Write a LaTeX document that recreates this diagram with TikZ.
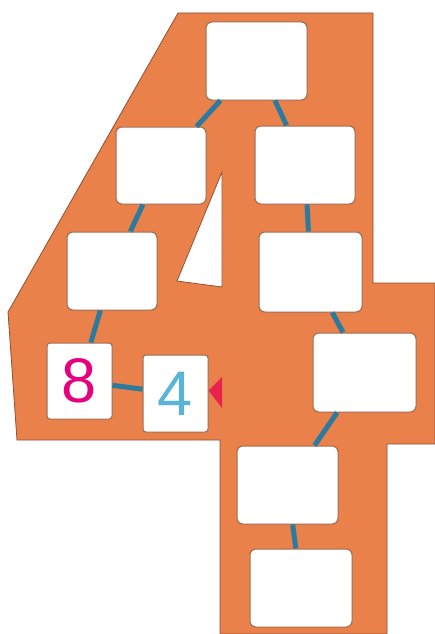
\documentclass[tikz,border=0pt]{standalone}
\usepackage{fontspec}
\setsansfont{Liberation Sans}
\usepackage{xcolor}
\usetikzlibrary{shapes,arrows.meta,positioning,calc}

\definecolor{plate}{RGB}{234,128,74}
\definecolor{rim}{RGB}{140,82,52}
\definecolor{link}{RGB}{44,122,158}
\definecolor{pink}{RGB}{230,0,126}
\definecolor{sky}{RGB}{90,180,214}
\definecolor{flagred}{RGB}{232,36,78}

\begin{document}
\begin{tikzpicture}[
    x=1pt, y=-1pt,
    box/.style={rectangle, draw=rim!85, fill=white, rounded corners=6pt, line width=1pt, inner sep=0pt, minimum width=100pt, minimum height=78pt},
    numbox/.style={box, rounded corners=3pt, minimum width=65pt, minimum height=77pt, font=\sffamily\fontsize{63}{63}\selectfont},
    wire/.style={line width=5pt, draw=link}
]
\useasboundingbox (0,0) rectangle (435,634);

% the big four
\filldraw[fill=plate, draw=rim, line width=0.8pt]
    (178,13) -- (373,13) -- (373,283) -- (435,283) -- (435,444) -- (387,444)
    -- (387,634) -- (220,634) -- (220,440) -- (17,440) -- (8,312) -- cycle;
\filldraw[fill=white, draw=rim, line width=0.8pt]
    (222,172) -- (222,287) -- (177,281) -- cycle;

\node[box, minimum width=101pt] (top) at (256.5,61) {};
\node[box, minimum width=90pt, minimum height=77pt] (upleft) at (161,165.5) {};
\node[box] (upright) at (305,165) {};
\node[box, minimum width=90pt] (midleft) at (112,271) {};
\node[box, minimum width=103pt, minimum height=80pt] (midright) at (310.5,272) {};
\node[numbox, minimum height=76pt, text=pink] (eight) at (79.5,381) {8};
\node[numbox, text=sky] (four) at (175.5,393.5) {4};
\node[box, minimum width=103pt, minimum height=79pt] (corner) at (364.5,372.5) {};
\node[box, minimum width=101pt] (stemup) at (287.5,485) {};
\node[box, minimum width=102pt] (stemdown) at (301,588) {};

\draw[wire] (top) -- (upleft);
\draw[wire] (top) -- (upright);
\draw[wire] (upleft) -- (midleft);
\draw[wire] (upright) -- (midright);
\draw[wire] (midleft) -- (eight);
\draw[wire] (eight) -- (four);
\draw[wire] (midright) -- (corner);
\draw[wire] (corner) -- (stemup);
\draw[wire] (stemup) -- (stemdown);

% pointer
\fill[flagred] ($(four.east)+(0,-3)$) -- (222,377) -- (222,408) -- cycle;

\end{tikzpicture}
\end{document}
